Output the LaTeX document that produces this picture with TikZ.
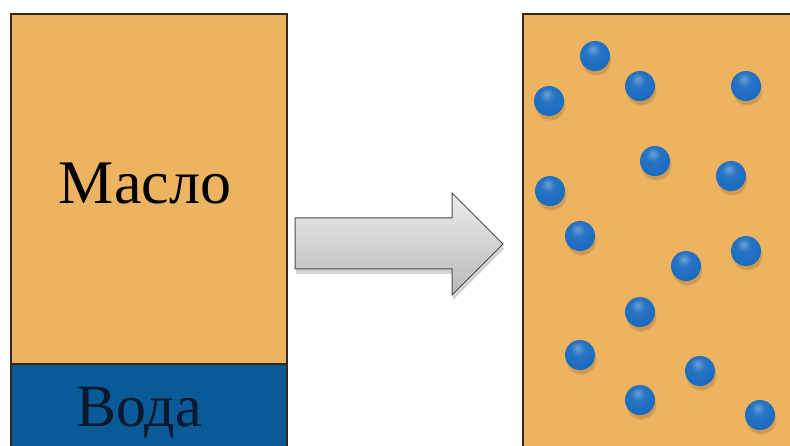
\documentclass[tikz,border=0pt]{standalone}
\usepackage{fontspec}
\setmainfont{Liberation Serif}
\usetikzlibrary{shadows,shadings}
\definecolor{oil}{RGB}{236,180,96}
\definecolor{water}{RGB}{9,90,150}
\definecolor{edge}{RGB}{55,38,30}
\definecolor{drop}{RGB}{28,108,192}
\definecolor{watertext}{RGB}{12,24,45}
% glossy blue droplet
\pgfdeclareradialshading{bluedrop}{\pgfpoint{-4bp}{12bp}}{%
  color(0bp)=(drop!65!white); color(12bp)=(drop!95!white); color(28bp)=(drop);
  color(42bp)=(drop!75!black); color(52bp)=(drop!55!black); color(70bp)=(drop!55!black)}
\tikzset{
  tank/.style={fill=oil, draw=edge, line width=1.4pt},
  layer/.style={fill=water, draw=edge, line width=1.4pt},
  label/.style={font=\fontsize{62}{62}\selectfont, inner sep=0pt, anchor=base},
  drop/.style={circle, minimum size=30pt, inner sep=0pt, shading=bluedrop,
    circular drop shadow={shadow xshift=1pt, shadow yshift=-4pt, opacity=0.3, fill=brown!70!black, shadow scale=1.05}},
  blockarrow/.style={draw=black!70, line width=1pt, top color=gray!15, bottom color=gray!55,
    drop shadow={shadow xshift=1pt, shadow yshift=-5pt, opacity=0.35}}
}
\begin{document}
\begin{tikzpicture}[x=1pt,y=-1pt]
  \useasboundingbox (0,0) rectangle (790,446);
  \clip (0,0) rectangle (790,446);
  % left vessel: oil over water
  \path[tank] (11,14) rectangle (287,364);
  \path[layer] (11,364) rectangle (287,460);
  \node[label] (oiltext) at (145,204) {Масло};
  \node[label, text=watertext, font=\fontsize{60}{60}\selectfont] (watertxt) at (139,426) {Вода};
  % block arrow
  \path[blockarrow] (295,218) -- (452,218) -- (452,193) -- (503,244) -- (452,295) -- (452,269) -- (295,269) -- cycle;
  % right vessel: emulsion
  \path[tank] (523,14) rectangle (800,460);
  \foreach \n/\x/\y in {d1/595/56, d2/640/86, d3/549/101, d4/746/86,
                        d5/655/161, d6/731/176, d7/550/191, d8/580/236,
                        d9/746/251, d10/686/266, d11/640/312, d12/580/355,
                        d13/700/371, d14/640/400, d15/760/415}
    \node[drop] (\n) at (\x,\y) {};
\end{tikzpicture}
\end{document}
